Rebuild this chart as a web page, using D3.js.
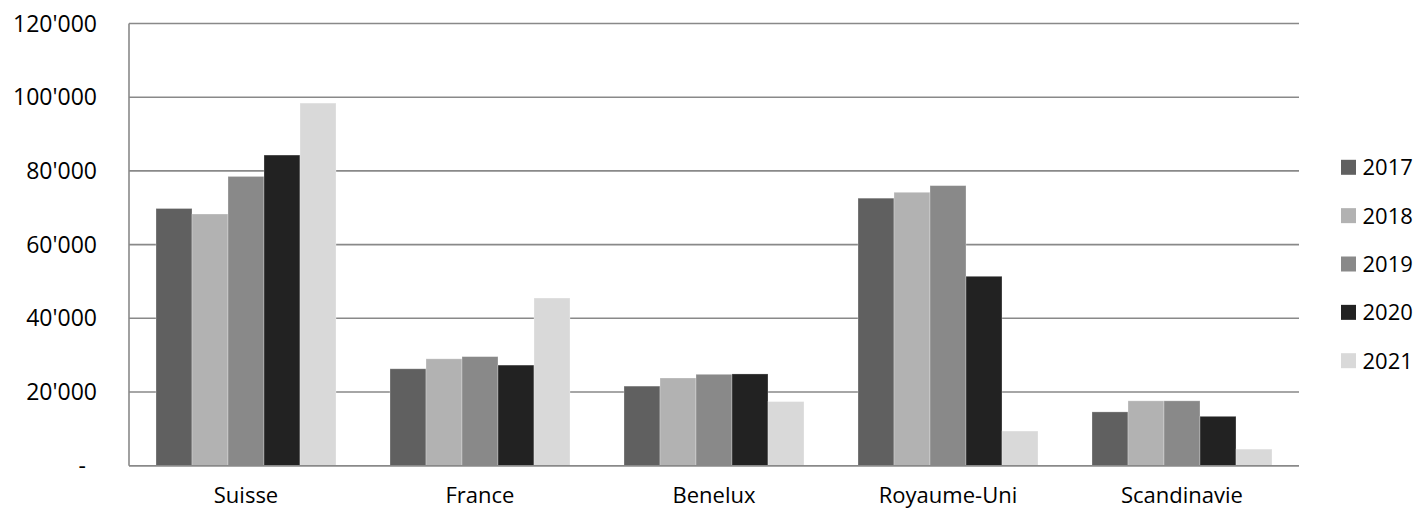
<!DOCTYPE html>
<html>
<head>
<meta charset="utf-8">
<script src="https://cdn.jsdelivr.net/npm/d3@7/dist/d3.min.js"></script>
<style>
  html, body { margin: 0; padding: 0; background: #fff; }
  svg { display: block; font-family: "Open Sans", "Noto Sans", sans-serif; }
</style>
</head>
<body>
<svg id="chart" width="1419" height="510"></svg>
<script>
const categories = ["Suisse", "France", "Benelux", "Royaume-Uni", "Scandinavie"];
const years = ["2017", "2018", "2019", "2020", "2021"];
const values2017 = [69800, 26300, 21600, 72600, 14600];
const values2018 = [68300, 29000, 23800, 74200, 17600];
const values2019 = [78500, 29600, 24800, 76000, 17600];
const values2020 = [84300, 27300, 24900, 51400, 13400];
const values2021 = [98400, 45500, 17400, 9400, 4500];
const yTicks = [0, 20000, 40000, 60000, 80000, 100000, 120000];
const colors = ["#606060", "#b2b2b2", "#898989", "#222222", "#d9d9d9"];

const seriesValues = [values2017, values2018, values2019, values2020, values2021];

(function () {
const svg = d3.select("#chart");
const mLeft = 129, mRight = 1299, mTop = 23.5, mBottom = 465.7;

const x0 = d3.scaleBand().domain(categories).range([mLeft, mRight]).padding(0);
const x1 = d3.scaleBand().domain(years).range([0, x0.bandwidth()]).paddingInner(0).paddingOuter(0.75);
const y = d3.scaleLinear().domain([0, 120000]).range([mBottom, mTop]);

const loc = d3.formatLocale({ decimal: ".", thousands: "'", grouping: [3], currency: ["", ""] });
const fmt = loc.format(",d");

// gridlines
svg.append("g").selectAll("line").data(yTicks).join("line")
  .attr("x1", mLeft).attr("x2", mRight)
  .attr("y1", d => y(d)).attr("y2", d => y(d))
  .attr("stroke", "#898989").attr("stroke-width", 1.6);

// left axis line
svg.append("line")
  .attr("x1", mLeft).attr("x2", mLeft)
  .attr("y1", y(120000)).attr("y2", y(0))
  .attr("stroke", "#898989").attr("stroke-width", 1.6);

// y labels
svg.append("g").selectAll("text").data(yTicks).join("text")
  .attr("x", d => d === 0 ? 86 : 97)
  .attr("y", d => y(d) + 8)
  .attr("text-anchor", "end")
  .attr("font-size", 23)
  .attr("fill", "#000")
  .text(d => d === 0 ? "-" : fmt(d));

// bars
const groups = svg.append("g").selectAll("g").data(categories).join("g")
  .attr("transform", c => `translate(${x0(c)},0)`);
groups.selectAll("rect")
  .data((c, ci) => years.map((yr, si) => ({ yr, si, v: seriesValues[si][ci] })))
  .join("rect")
  .attr("x", d => x1(d.yr))
  .attr("width", x1.bandwidth())
  .attr("y", d => y(d.v))
  .attr("height", d => y(0) - y(d.v))
  .attr("fill", d => colors[d.si])
  .attr("stroke", "#ffffff").attr("stroke-opacity", 0.35).attr("stroke-width", 0.8);

// baseline redraw on top
svg.append("line")
  .attr("x1", mLeft).attr("x2", mRight)
  .attr("y1", y(0)).attr("y2", y(0))
  .attr("stroke", "#898989").attr("stroke-width", 1.6);

// category labels
svg.append("g").selectAll("text").data(categories).join("text")
  .attr("x", c => x0(c) + x0.bandwidth() / 2)
  .attr("y", 503)
  .attr("text-anchor", "middle")
  .attr("font-size", 22)
  .attr("fill", "#000")
  .text(c => c);

// legend
const lg = svg.append("g").selectAll("g").data(years).join("g")
  .attr("transform", (d, i) => `translate(1341, ${167.3 + i * 48.35})`);
lg.append("rect").attr("x", 0).attr("y", -7.5).attr("width", 15).attr("height", 15)
  .attr("fill", (d, i) => colors[i]);
lg.append("text").attr("x", 21.5).attr("y", 8).attr("font-size", 22).attr("fill", "#000").text(d => d);
})();
</script>
</body>
</html>
